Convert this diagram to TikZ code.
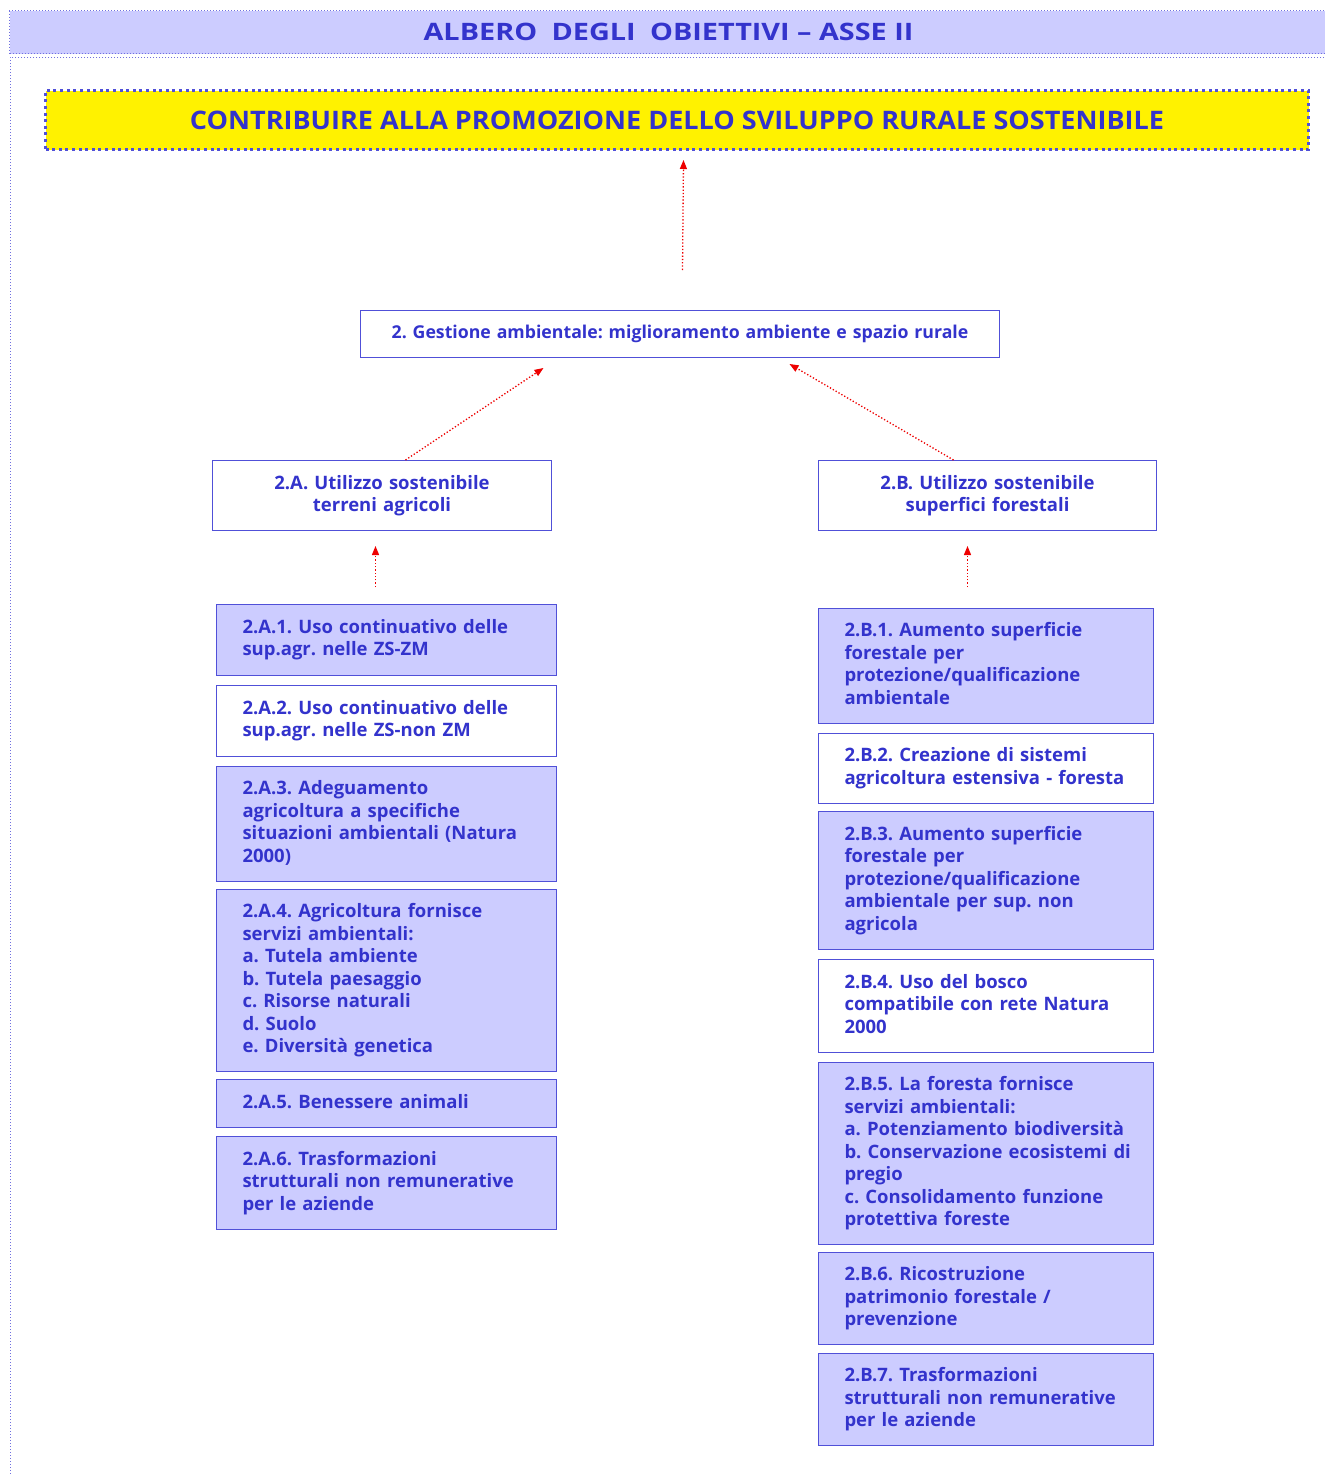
\documentclass[tikz,border=0pt]{standalone}
\usepackage{fontspec}
\setmainfont{Open Sans}
\newfontfamily\widefont{Open Sans}[FakeStretch=1.2]
\newfontfamily\goalfont{Open Sans}[FakeStretch=1.06]
\usetikzlibrary{arrows.meta}
\definecolor{lav}{HTML}{CCCCFF}
\definecolor{bordc}{HTML}{5050D8}
\definecolor{txtc}{HTML}{3333CC}
\definecolor{framec}{HTML}{7070E0}
\definecolor{arrc}{HTML}{EE0000}
\newcommand{\boxlines}[1]{\begin{tabular}{@{\hspace{26pt}}l@{}}#1\end{tabular}}
\newcommand{\bodyfont}{\fontsize{18.5}{22.5}\selectfont\bfseries\frenchspacing}
\tikzset{
  box/.style={draw=bordc, line width=1pt, rectangle, inner xsep=0pt, inner ysep=0pt,
    anchor=north west, font=\bodyfont, text=txtc, align=left},
  filled/.style={box, fill=lav},
  plain/.style={box, fill=white},
  cbox/.style={box, align=center},
  arr/.style={draw=arrc, line width=1.3pt, dotted, -{Triangle[length=9pt,width=7pt]}, arrc}
}
\begin{document}
\begin{tikzpicture}[x=1pt,y=-1pt]
\useasboundingbox (0,0) rectangle (1325,1475);
\fill[white] (0,0) rectangle (1325,1475);
% title bar
\node[draw=framec, line width=1pt, dotted, fill=lav, anchor=north west, minimum width=1318pt,
  minimum height=43pt, inner sep=0pt, text=txtc, font=\widefont\fontsize{24}{26}\selectfont\bfseries]
  (title) at (9,10) {ALBERO\hspace{0.6em}DEGLI\hspace{0.6em}OBIETTIVI – ASSE II};
\draw[framec, line width=1pt, dotted] (1327,57) -- (10,57) -- (10,1477);
% goal
\node[draw=bordc, line width=3pt, dash pattern=on 3pt off 3.6pt, fill=yellow, anchor=north west,
  minimum width=1263pt, minimum height=59pt, inner sep=0pt, text=txtc,
  font=\goalfont\fontsize{25.5}{28}\selectfont\bfseries]
  (goal) at (44,89) {CONTRIBUIRE ALLA PROMOZIONE DELLO SVILUPPO RURALE SOSTENIBILE};
% level 1
\node[cbox, minimum width=639pt, minimum height=47pt, text width=639pt,
  font=\fontsize{17.7}{22.5}\selectfont\bfseries\frenchspacing] (gest) at (360,310)
  {2. Gestione ambientale: miglioramento ambiente e spazio rurale};
% level 2
\node[cbox, minimum width=339pt, minimum height=70pt, text width=339pt] (A) at (212,460)
  {2.A. Utilizzo sostenibile\\terreni agricoli};
\node[cbox, minimum width=338pt, minimum height=70pt, text width=338pt] (B) at (818,460)
  {2.B. Utilizzo sostenibile\\superfici forestali};
% left column
\node[filled, minimum width=340pt, text width=340pt, minimum height=71pt] (a1) at (216,604)
  {\boxlines{2.A.1. Uso continuativo delle\\sup.agr. nelle ZS-ZM}};
\node[plain, minimum width=340pt, text width=340pt, minimum height=71pt] (a2) at (216,685)
  {\boxlines{2.A.2. Uso continuativo delle\\sup.agr. nelle ZS-non ZM}};
\node[filled, minimum width=340pt, text width=340pt, minimum height=115pt] (a3) at (216,766)
  {\boxlines{2.A.3. Adeguamento\\agricoltura a specifiche\\situazioni ambientali (Natura\\2000)}};
\node[filled, minimum width=340pt, text width=340pt, minimum height=182pt] (a4) at (216,889)
  {\boxlines{2.A.4. Agricoltura fornisce\\servizi ambientali:\\a. Tutela ambiente\\b. Tutela paesaggio\\c. Risorse naturali\\d. Suolo\\e. Diversità genetica}};
\node[filled, minimum width=340pt, text width=340pt, minimum height=48pt] (a5) at (216,1079)
  {\boxlines{2.A.5. Benessere animali}};
\node[filled, minimum width=340pt, text width=340pt, minimum height=93pt] (a6) at (216,1136)
  {\boxlines{2.A.6. Trasformazioni\\strutturali non remunerative\\per le aziende}};
% right column
\node[filled, minimum width=335pt, text width=335pt, minimum height=115pt] (b1) at (818,608)
  {\boxlines{2.B.1. Aumento superficie\\forestale per\\protezione/qualificazione\\ambientale}};
\node[plain, minimum width=335pt, text width=335pt, minimum height=70pt] (b2) at (818,733)
  {\boxlines{2.B.2. Creazione di sistemi\\agricoltura estensiva - foresta}};
\node[filled, minimum width=335pt, text width=335pt, minimum height=138pt] (b3) at (818,811)
  {\boxlines{2.B.3. Aumento superficie\\forestale per\\protezione/qualificazione\\ambientale per sup. non\\agricola}};
\node[plain, minimum width=335pt, text width=335pt, minimum height=93pt] (b4) at (818,959)
  {\boxlines{2.B.4. Uso del bosco\\compatibile con rete Natura\\2000}};
\node[filled, minimum width=335pt, text width=335pt, minimum height=182pt] (b5) at (818,1062)
  {\boxlines{2.B.5. La foresta fornisce\\servizi ambientali:\\a. Potenziamento biodiversità\\b. Conservazione ecosistemi di\\pregio\\c. Consolidamento funzione\\protettiva foreste}};
\node[filled, minimum width=335pt, text width=335pt, minimum height=92pt] (b6) at (818,1252)
  {\boxlines{2.B.6. Ricostruzione\\patrimonio forestale /\\prevenzione}};
\node[filled, minimum width=335pt, text width=335pt, minimum height=92pt] (b7) at (818,1353)
  {\boxlines{2.B.7. Trasformazioni\\strutturali non remunerative\\per le aziende}};
% arrows
\draw[arr] ([xshift=2.5pt,yshift=40pt]gest.north) -- ([xshift=6.5pt,yshift=-9pt]goal.south);
\draw[arr] ([xshift=23.5pt]A.north) -- ([xshift=-136.5pt,yshift=-10pt]gest.south);
\draw[arr] ([xshift=-34pt]B.north) -- ([xshift=109.5pt,yshift=-6pt]gest.south);
\draw[arr] ([xshift=-11pt,yshift=17pt]a1.north) -- ([xshift=-6.5pt,yshift=-15pt]A.south);
\draw[arr] ([xshift=-18.5pt,yshift=21pt]b1.north) -- ([xshift=-20pt,yshift=-15pt]B.south);
\end{tikzpicture}
\end{document}
